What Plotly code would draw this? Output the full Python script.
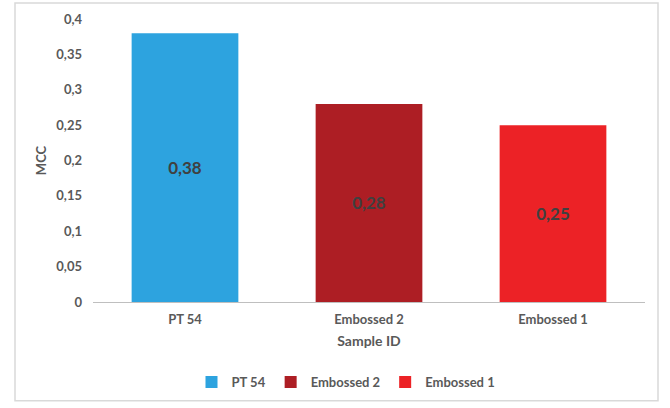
import plotly.graph_objects as go

# Sample identifiers and their MCC values
samples = ["PT 54", "Embossed 2", "Embossed 1"]
mcc = [0.38, 0.28, 0.25]
colors = ["#2DA3DF", "#AD1E24", "#EC2226"]

# Y axis ticks
y_ticks = [0, 0.05, 0.1, 0.15, 0.2, 0.25, 0.3, 0.35, 0.4]
y_tick_labels = ["0", "0,05", "0,1", "0,15", "0,2", "0,25", "0,3", "0,35", "0,4"]

FONT = "Lato, Open Sans, Liberation Sans, sans-serif"

fig = go.Figure()
for name, val, col in zip(samples, mcc, colors):
    fig.add_trace(go.Bar(
        x=[name], y=[val], name=name,
        marker=dict(color=col, line=dict(width=0)),
        text=[f"{val:.2f}".replace(".", ",")],
        textposition="inside",
        insidetextanchor="middle",
        textfont=dict(family=FONT, size=17, color="#404040", weight="bold"),
        textangle=0,
    ))

W, H = 670, 408
ml, mr, mt, mb = 93, 25, 19, 105
pw, ph = W - ml - mr, H - mt - mb

def px_x(p):
    return (p - ml) / pw

def px_y(p):
    return (H - mb - p) / ph

fig.update_layout(
    width=W, height=H,
    margin=dict(l=ml, r=mr, t=mt, b=mb),
    paper_bgcolor="white", plot_bgcolor="white",
    barmode="overlay",
    bargap=0.42,
    font=dict(family=FONT, color="#595959", size=13),
    xaxis=dict(
        categoryorder="array", categoryarray=samples,
        showline=True, linecolor="#BFBFBF", linewidth=1,
        ticks="", showgrid=False,
        ticklabelstandoff=5,
        tickfont=dict(size=13, color="#595959", weight="bold"),
        title=dict(text="Sample ID", font=dict(size=14, color="#595959", weight="bold"), standoff=10),
    ),
    yaxis=dict(
        range=[0, 0.4], tickvals=y_ticks, ticktext=y_tick_labels,
        showgrid=False, zeroline=False, showline=False, ticks="",
        ticklabelstandoff=10,
        tickfont=dict(size=13, color="#595959", weight="bold"),
        title=dict(text="MCC", font=dict(size=13, color="#595959", weight="bold"), standoff=6),
    ),
    legend=dict(
        orientation="h", x=px_x(346), xanchor="center",
        y=px_y(382), yanchor="middle",
        font=dict(size=13, color="#595959", weight="bold"),
        itemwidth=30, tracegroupgap=0,
    ),
    shapes=[dict(
        type="rect", xref="paper", yref="paper",
        x0=px_x(15), x1=px_x(658), y0=px_y(402), y1=px_y(3),
        line=dict(color="#D9D9D9", width=1.5),
        fillcolor="rgba(0,0,0,0)", layer="below",
    )],
)

fig.write_html("out.html")
